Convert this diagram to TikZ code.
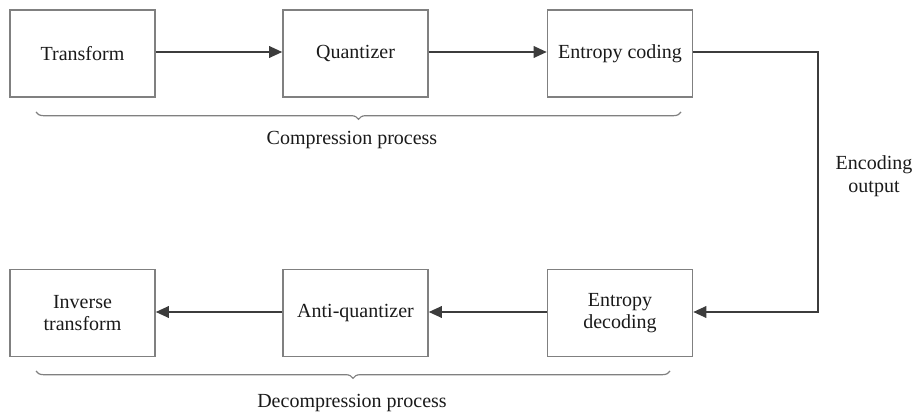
\documentclass[tikz,border=0pt]{standalone}
\usepackage{fontspec}
\setmainfont{Liberation Serif}
\usetikzlibrary{arrows.meta,decorations.pathreplacing}
\definecolor{boxline}{HTML}{808080}
\definecolor{flowline}{HTML}{3C3C3C}
\definecolor{txt}{HTML}{1A1A1A}
\begin{document}
\begin{tikzpicture}[x=0.75pt,y=-0.75pt,
  stage/.style={draw=boxline,line width=0.9pt,minimum width=108.75pt,minimum height=65.25pt,
    inner sep=0pt,align=center,text=txt,font=\fontsize{15}{17}\selectfont},
  flow/.style={draw=flowline,line width=2pt,-{Triangle[length=10pt,width=8.5pt]}},
  grp/.style={draw=boxline,line width=0.9pt,decorate,decoration={brace,mirror,amplitude=5.5pt}},
  lbl/.style={text=txt,font=\fontsize{15}{17}\selectfont,align=center}]
\useasboundingbox (0,0) rectangle (917,417);
% compression chain
\node[stage] (tr) at (82.5,53.5) {Transform};
\node[stage] (qu) at (355.5,53.5) {Quantizer};
\node[stage] (ec) at (620,53.5) {Entropy coding};
% decompression chain
\node[stage] (ed) at (620,313) {Entropy\\decoding};
\node[stage] (aq) at (355.5,313) {Anti-quantizer};
\node[stage] (it) at (82.5,313) {Inverse\\transform};
% connectors
\draw[flow] (tr.east |- 0,52) -- (qu.west |- 0,52);
\draw[flow] (qu.east |- 0,52) -- (ec.west |- 0,52);
\coordinate (c1) at (818,52);
\coordinate (c2) at (818,312);
\draw[flow] (ec.east |- c1) -- (c1) -- (c2) -- (ed.east |- c2);
\draw[flow] (ed.west |- c2) -- (aq.east |- c2);
\draw[flow] (aq.west |- c2) -- (it.east |- c2);
% group braces
\coordinate (b1) at (36,112);
\coordinate (b2) at (681,112);
\draw[grp] (b1) -- (b2);
\node[lbl] (cp) at (352,140) {Compression process};
\coordinate (b3) at (36,371);
\coordinate (b4) at (670,371);
\draw[grp] (b3) -- (b4);
\node[lbl] (dp) at (352,403) {Decompression process};
% channel label
\node[lbl] (eo) at (874,176) {Encoding\\output};
\end{tikzpicture}
\end{document}
